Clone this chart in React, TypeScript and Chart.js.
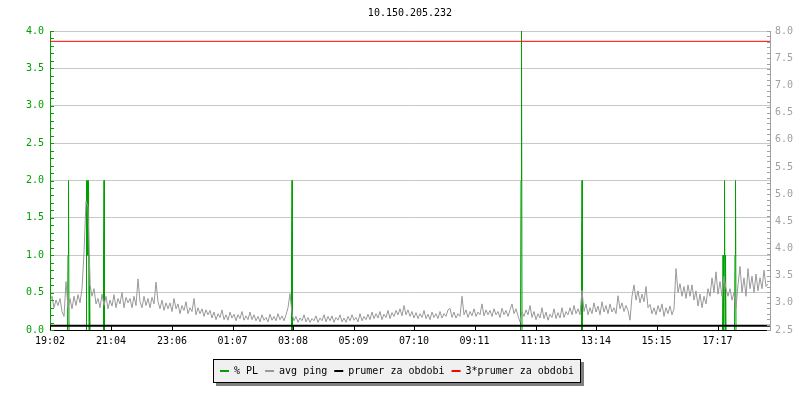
import React, { useEffect, useRef } from 'react';
import { Chart, registerables } from 'chart.js';

Chart.register(...registerables);

// ---------- data ----------
const chartTitle = '10.150.205.232';

// x axis: minutes from start (19:02), 24 h window
const xMaxMinutes = 1440;
const xTickMinutes = [0, 122, 244, 365, 486, 607, 728, 849, 971, 1092, 1213, 1335];
const xTickLabels = ['19:02', '21:04', '23:06', '01:07', '03:08', '05:09', '07:10', '09:11', '11:13', '13:14', '15:15', '17:17'];

// avg ping (ms), one value every 4 minutes
const pingStepMinutes = 4;
const pingValues = [
  3.02, 3.12, 2.91, 3.05, 2.95, 3.08, 2.84, 2.75, 3.39, 2.91, 3.08, 2.89, 3.12, 2.95, 3.15, 3.0, 3.26, 3.92, 4.87, 4.77,
  3.33, 3.12, 3.26, 2.98, 3.08, 2.91, 3.16, 2.95, 3.12, 2.89, 3.05, 2.94, 3.15, 2.91, 3.08, 2.98, 3.19, 2.91, 3.1, 3.0,
  3.08, 2.91, 3.12, 2.95, 3.44, 3.02, 2.91, 3.12, 2.95, 3.08, 2.91, 3.1, 2.98, 3.38, 3.02, 2.89, 3.05, 2.86, 3.0, 2.89,
  3.0, 2.84, 3.08, 2.89, 2.98, 2.8, 2.95, 2.86, 3.02, 2.8, 2.91, 2.84, 3.08, 2.78, 2.91, 2.8, 2.89, 2.75, 2.87, 2.78,
  2.86, 2.72, 2.83, 2.69, 2.8, 2.73, 2.87, 2.69, 2.78, 2.68, 2.83, 2.72, 2.79, 2.67, 2.78, 2.71, 2.84, 2.68, 2.76, 2.69,
  2.83, 2.69, 2.78, 2.67, 2.75, 2.65, 2.78, 2.68, 2.73, 2.65, 2.79, 2.68, 2.75, 2.67, 2.8, 2.69, 2.76, 2.67, 2.78, 2.91,
  3.17, 2.8, 2.67, 2.75, 2.64, 2.72, 2.67, 2.78, 2.65, 2.73, 2.64, 2.71, 2.67, 2.76, 2.64, 2.72, 2.67, 2.78, 2.65, 2.75,
  2.67, 2.76, 2.64, 2.73, 2.68, 2.78, 2.65, 2.72, 2.64, 2.75, 2.67, 2.78, 2.68, 2.73, 2.65, 2.8, 2.67, 2.75, 2.69, 2.79,
  2.69, 2.83, 2.71, 2.8, 2.72, 2.84, 2.69, 2.79, 2.73, 2.86, 2.71, 2.82, 2.75, 2.86, 2.78, 2.89, 2.76, 2.95, 2.78, 2.87,
  2.75, 2.84, 2.72, 2.82, 2.71, 2.8, 2.73, 2.86, 2.71, 2.79, 2.69, 2.83, 2.73, 2.8, 2.71, 2.84, 2.72, 2.8, 2.75, 2.87,
  2.9, 2.73, 2.83, 2.72, 2.8, 2.75, 3.12, 2.78, 2.87, 2.73, 2.84, 2.76, 2.89, 2.75, 2.83, 2.78, 2.98, 2.76, 2.87, 2.78,
  2.86, 2.75, 2.89, 2.78, 2.84, 2.73, 2.9, 2.78, 2.86, 2.75, 2.87, 2.98, 2.8, 2.89, 2.76, 2.65, 2.83, 2.75, 2.87, 2.78,
  2.95, 2.73, 2.84, 2.69, 2.8, 2.72, 2.91, 2.71, 2.83, 2.68, 2.79, 2.73, 2.89, 2.71, 2.82, 2.72, 2.91, 2.73, 2.84, 2.78,
  2.91, 2.78, 2.95, 2.8, 2.89, 2.78, 3.23, 2.84, 2.98, 2.78, 2.91, 2.8, 3.0, 2.83, 2.94, 2.78, 3.02, 2.83, 2.95, 2.8,
  2.98, 2.83, 2.91, 2.8, 3.13, 2.89, 3.0, 2.84, 2.95, 2.86, 2.68, 3.12, 3.33, 3.05, 3.22, 3.0, 3.16, 3.02, 3.3, 2.91,
  2.97, 2.8, 2.91, 2.78, 2.95, 2.83, 2.98, 2.75, 2.91, 2.8, 2.94, 2.78, 2.89, 3.63, 3.19, 3.35, 3.12, 3.3, 3.08, 3.33,
  3.12, 3.33, 3.05, 3.22, 2.94, 3.16, 2.91, 3.12, 2.98, 3.26, 3.12, 3.46, 3.19, 3.57, 3.16, 3.39, 3.12, 3.49, 3.26, 3.12,
  3.26, 3.05, 3.19, 2.91, 3.33, 3.67, 3.19, 3.46, 3.12, 3.63, 3.26, 3.49, 3.19, 3.53, 3.22, 3.46, 3.26, 3.6, 3.3, 3.35,
];

// packet loss (%), samples around each loss event
const plTimes = [
  35, 36, 37, 38,
  72, 73, 74, 75, 76, 77, 78, 79, 80,
  106, 107, 108, 109,
  482, 483, 484, 485,
  941, 942, 943, 944,
  1062, 1063, 1064, 1065,
  1345, 1346, 1347, 1348, 1349, 1350, 1351, 1352,
  1369, 1370, 1371, 1372,
];
const plValues = [
  0, 1, 2, 0,
  0, 2, 1, 2, 1, 2, 0, 1, 0,
  0, 1, 2, 0,
  0, 1, 2, 0,
  0, 2, 4, 0,
  0, 1, 2, 0,
  0, 1, 0, 1, 2, 0, 1, 0,
  0, 1, 2, 0,
];

const prumerValue = 2.58;   // ms
const prumer3Value = 7.81;  // ms

const legendLabels = ['% PL', 'avg ping', 'prumer za obdobi', '3*prumer za obdobi'];
const seriesColors = ['#00a000', '#999999', '#000000', '#ff0000'];

// left axis (% PL) and right axis (ms)
const leftMin = 0, leftMax = 4, leftStep = 0.5;
const rightMin = 2.5, rightMax = 8, rightStep = 0.5;

// ---------- styling ----------
const FONT = '"DejaVu Sans Mono", monospace';
const GREEN = seriesColors[0];
const GRAY = '#a0a0a0';
const GRID = '#c8c8c8';
const legendCenterX = 397;

const axisTicksPlugin = {
  id: 'axisTicks',
  afterDraw(chart: any) {
    const { ctx, chartArea: a, scales } = chart;
    const y = scales.y, y1 = scales.y1, x = scales.x;
    ctx.save();
    ctx.lineWidth = 1;
    ctx.strokeStyle = GREEN;
    ctx.beginPath();
    for (let i = 0; i <= 40; i++) {
      const py = Math.round(y.getPixelForValue(leftMin + i / 10)) + 0.5;
      ctx.moveTo(a.left, py);
      ctx.lineTo(a.left + 4, py);
    }
    ctx.stroke();
    ctx.strokeStyle = GRAY;
    ctx.beginPath();
    for (let i = 0; i <= 55; i++) {
      const py = Math.round(y1.getPixelForValue(rightMin + i / 10)) + 0.5;
      ctx.moveTo(a.right - 3, py);
      ctx.lineTo(a.right + 1, py);
    }
    ctx.stroke();
    ctx.strokeStyle = '#000';
    ctx.beginPath();
    xTickMinutes.forEach((m) => {
      const px = Math.round(x.getPixelForValue(m)) + 0.5;
      ctx.moveTo(px, a.bottom);
      ctx.lineTo(px, a.bottom - 4);
    });
    ctx.stroke();
    ctx.restore();
  },
};

const boxLegendPlugin = {
  id: 'boxLegend',
  afterDraw(chart: any) {
    const ctx = chart.ctx;
    ctx.save();
    ctx.font = '10px ' + FONT;
    const widths = legendLabels.map((t) => ctx.measureText(t).width);
    const markerW = 9, textOff = 14, itemGap = 7, pad = 7;
    const inner = widths.reduce((s, w) => s + textOff + w, 0) + itemGap * (widths.length - 1);
    const boxW = Math.round(inner + pad * 2);
    const boxH = 24;
    const left = Math.round(legendCenterX - boxW / 2);
    const top = 359;
    ctx.fillStyle = '#808080';
    ctx.fillRect(left + 3, top + 3, boxW, boxH);
    ctx.fillStyle = '#f0f0f0';
    ctx.fillRect(left, top, boxW, boxH);
    ctx.strokeStyle = '#000';
    ctx.lineWidth = 1;
    ctx.strokeRect(left + 0.5, top + 0.5, boxW - 1, boxH - 1);
    let x = left + pad;
    const cy = top + Math.round(boxH / 2);
    ctx.textBaseline = 'middle';
    ctx.textAlign = 'left';
    legendLabels.forEach((t, i) => {
      ctx.fillStyle = seriesColors[i];
      ctx.fillRect(x, cy - 1, markerW, 2);
      ctx.fillStyle = '#000';
      ctx.fillText(t, x + textOff, cy);
      x += textOff + widths[i] + itemGap;
    });
    ctx.restore();
  },
};

export default function App() {
  const ref = useRef<HTMLCanvasElement>(null);

  useEffect(() => {
    const pingData = pingValues.map((v, i) => ({ x: i * pingStepMinutes, y: v }));
    const plData: { x: number; y: number | null }[] = [];
    for (let i = 0; i < plTimes.length; i++) {
      plData.push({ x: plTimes[i], y: plValues[i] });
      if (i < plTimes.length - 1 && plValues[i] === 0 && plValues[i + 1] === 0 && plTimes[i + 1] - plTimes[i] > 2) {
        plData.push({ x: plTimes[i] + 1, y: null });
      }
    }

    const chart = new Chart(ref.current as HTMLCanvasElement, {
      type: 'line',
      data: {
        datasets: [
          {
            label: legendLabels[0], data: plData, yAxisID: 'y', borderColor: seriesColors[0],
            borderWidth: 1, pointRadius: 0, spanGaps: false, order: 3,
          },
          {
            label: legendLabels[1], data: pingData, yAxisID: 'y1', borderColor: seriesColors[1],
            borderWidth: 1, pointRadius: 0, tension: 0, order: 2,
          },
          {
            label: legendLabels[2], data: [{ x: 0, y: prumerValue }, { x: xMaxMinutes, y: prumerValue }],
            yAxisID: 'y1', borderColor: seriesColors[2], borderWidth: 2, pointRadius: 0, order: 1,
          },
          {
            label: legendLabels[3], data: [{ x: 0, y: prumer3Value }, { x: xMaxMinutes, y: prumer3Value }],
            yAxisID: 'y1', borderColor: seriesColors[3], borderWidth: 1, pointRadius: 0, order: 0,
          },
        ] as any,
      },
      options: {
        animation: false,
        responsive: false,
        devicePixelRatio: 1,
        layout: { padding: { top: 0, left: 0, right: 0, bottom: 40 } },
        plugins: {
          legend: { display: false },
          tooltip: { enabled: false },
          title: {
            display: true,
            text: chartTitle,
            fullSize: false,
            color: '#000',
            font: { family: FONT, size: 10, weight: 'normal' },
            padding: { top: 7, bottom: 12 },
          },
        },
        scales: {
          x: {
            type: 'linear',
            min: 0,
            max: xMaxMinutes,
            afterBuildTicks: (scale: any) => {
              scale.ticks = xTickMinutes.map((v) => ({ value: v }));
            },
            afterFit: (scale: any) => { scale.height = 30; },
            ticks: {
              autoSkip: false,
              maxRotation: 0,
              minRotation: 0,
              padding: 5,
              color: '#000',
              font: { family: FONT, size: 10 },
              callback: (v: any) => {
                const idx = xTickMinutes.indexOf(Number(v));
                return idx >= 0 ? xTickLabels[idx] : '';
              },
            },
            grid: { display: false, drawTicks: false },
            border: { display: true, color: '#000', width: 1 },
          },
          y: {
            type: 'linear',
            position: 'left',
            min: leftMin,
            max: leftMax,
            afterFit: (scale: any) => { scale.width = 50; },
            ticks: {
              stepSize: leftStep,
              padding: 6,
              color: GREEN,
              font: { family: FONT, size: 10 },
              callback: (v: any) => Number(v).toFixed(1),
            },
            grid: {
              drawTicks: false,
              color: (c: any) => (c.tick && c.tick.value === leftMin ? 'rgba(0,0,0,0)' : GRID),
            },
            border: { display: true, color: GREEN, width: 1 },
          },
          y1: {
            type: 'linear',
            position: 'right',
            min: rightMin,
            max: rightMax,
            afterFit: (scale: any) => { scale.width = 30; },
            ticks: {
              stepSize: rightStep,
              padding: 5,
              color: GRAY,
              font: { family: FONT, size: 10 },
              callback: (v: any) => Number(v).toFixed(1),
            },
            grid: { drawOnChartArea: false, drawTicks: false },
            border: { display: true, color: GRAY, width: 1 },
          },
        },
      } as any,
      plugins: [axisTicksPlugin, boxLegendPlugin],
    });
    return () => chart.destroy();
  }, []);

  return (
    <canvas
      ref={ref}
      width={800}
      height={400}
      style={{ position: 'absolute', left: 0, top: 0, width: '800px', height: '400px' }}
    />
  );
}
